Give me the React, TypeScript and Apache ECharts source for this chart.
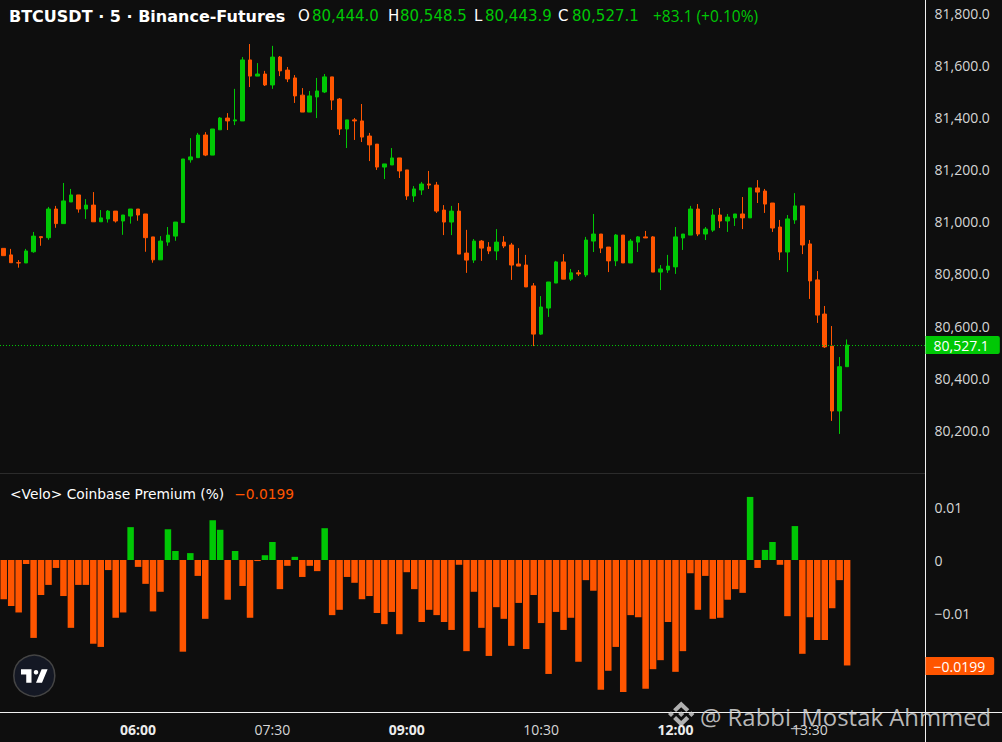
import React, { useEffect, useRef } from "react";
import * as echarts from "echarts";

// ---------- data ----------
const SYMBOL_TITLE = "BTCUSDT · 5 · Binance-Futures";
const PANE_TITLE = "<Velo> Coinbase Premium (%)";
const WATERMARK = "@ Rabbi_Mostak Ahmmed";

const START_HOUR = 4;
const START_MINUTE = 30;
const STEP_MINUTES = 5;
const SLOT_COUNT = 124; // visible 5-minute slots (incl. empty right margin)

const TIME_TICKS = ["06:00", "07:30", "09:00", "10:30", "12:00", "13:30"];

// open, high, low, close
const CANDLES: number[][] = [
  [80898, 80898, 80870, 80870],
  [80873, 80896, 80843, 80843],
  [80843, 80853, 80824, 80842],
  [80842, 80896, 80842, 80888],
  [80885, 80961, 80881, 80945],
  [80943, 80943, 80908, 80939],
  [80939, 81057, 80931, 81049],
  [81049, 81061, 80977, 80993],
  [80993, 81149, 80993, 81080],
  [81076, 81126, 81076, 81103],
  [81103, 81103, 81035, 81049],
  [81049, 81087, 81011, 81064],
  [81064, 81114, 81000, 81000],
  [81000, 81045, 81000, 81015],
  [81011, 81045, 80997, 81041],
  [81041, 81041, 80997, 81003],
  [81003, 81026, 80950, 81026],
  [81022, 81049, 80993, 81049],
  [81049, 81049, 81004, 81026],
  [81030, 81030, 80885, 80939],
  [80942, 80942, 80843, 80854],
  [80854, 80945, 80854, 80926],
  [80922, 80980, 80908, 80949],
  [80945, 80999, 80927, 80999],
  [80997, 81241, 80997, 81241],
  [81238, 81321, 81227, 81249],
  [81246, 81341, 81246, 81333],
  [81333, 81344, 81252, 81256],
  [81256, 81356, 81256, 81356],
  [81353, 81402, 81353, 81398],
  [81398, 81417, 81352, 81387],
  [81387, 81510, 81371, 81391],
  [81387, 81632, 81387, 81621],
  [81621, 81682, 81517, 81559],
  [81559, 81609, 81559, 81567],
  [81567, 81579, 81521, 81525],
  [81525, 81675, 81510, 81632],
  [81632, 81636, 81559, 81579],
  [81582, 81594, 81536, 81548],
  [81552, 81563, 81456, 81483],
  [81486, 81513, 81421, 81421],
  [81421, 81502, 81421, 81483],
  [81479, 81552, 81398, 81502],
  [81498, 81567, 81494, 81556],
  [81556, 81556, 81429, 81467],
  [81471, 81475, 81333, 81356],
  [81356, 81391, 81283, 81391],
  [81391, 81398, 81314, 81387],
  [81387, 81452, 81306, 81325],
  [81329, 81341, 81233, 81295],
  [81298, 81298, 81199, 81210],
  [81210, 81222, 81164, 81222],
  [81218, 81283, 81218, 81245],
  [81245, 81245, 81168, 81195],
  [81199, 81199, 81084, 81099],
  [81099, 81137, 81076, 81126],
  [81122, 81153, 81103, 81145],
  [81145, 81195, 81126, 81141],
  [81141, 81153, 81034, 81041],
  [81045, 81064, 80949, 80999],
  [80999, 81061, 80949, 81041],
  [81041, 81072, 80876, 80876],
  [80880, 80969, 80804, 80853],
  [80853, 80934, 80842, 80926],
  [80926, 80930, 80850, 80899],
  [80903, 80922, 80876, 80888],
  [80888, 80972, 80853, 80922],
  [80922, 80945, 80899, 80907],
  [80911, 80919, 80777, 80834],
  [80838, 80899, 80830, 80830],
  [80834, 80873, 80750, 80750],
  [80754, 80765, 80523, 80569],
  [80569, 80715, 80566, 80673],
  [80669, 80769, 80635, 80769],
  [80765, 80850, 80765, 80846],
  [80846, 80876, 80780, 80780],
  [80780, 80819, 80773, 80804],
  [80804, 80815, 80792, 80800],
  [80796, 80942, 80788, 80930],
  [80926, 81030, 80884, 80953],
  [80953, 80953, 80880, 80899],
  [80903, 80903, 80807, 80850],
  [80850, 80953, 80830, 80949],
  [80949, 80949, 80842, 80842],
  [80842, 80934, 80842, 80926],
  [80922, 80945, 80884, 80942],
  [80942, 80965, 80938, 80938],
  [80942, 80945, 80807, 80807],
  [80807, 80834, 80738, 80819],
  [80815, 80873, 80804, 80830],
  [80827, 80980, 80800, 80942],
  [80938, 80953, 80892, 80953],
  [80949, 81061, 80949, 81049],
  [81049, 81068, 80945, 80953],
  [80953, 80980, 80930, 80972],
  [80968, 81049, 80961, 81026],
  [81026, 81053, 80976, 81003],
  [81003, 81030, 80961, 81018],
  [81015, 81030, 80984, 81030],
  [81030, 81095, 80972, 81015],
  [81015, 81130, 81015, 81130],
  [81130, 81160, 81072, 81114],
  [81118, 81126, 81034, 81068],
  [81072, 81072, 80961, 80976],
  [80980, 81007, 80853, 80884],
  [80884, 81026, 80807, 81011],
  [81007, 81110, 80992, 81061],
  [81061, 81061, 80876, 80911],
  [80915, 80930, 80704, 80773],
  [80777, 80811, 80612, 80642],
  [80646, 80677, 80516, 80520],
  [80523, 80600, 80236, 80274],
  [80274, 80481, 80186, 80444.0],
  [80444.0, 80548.5, 80443.9, 80527.1],
];

const PREMIUM: number[] = [
  -0.0074, -0.0087, -0.0099, -0.00075, -0.0147, -0.0066, -0.0047, -0.0015, -0.0068, -0.0128,
  -0.0047, -0.0047, -0.0158, -0.0164, -0.0019, -0.0109, -0.0099, 0.0062, -0.0013, -0.0045,
  -0.0097, -0.006, 0.0058, 0.0017, -0.0173, 0.0013, -0.003, -0.0111, 0.0075, 0.0057,
  -0.0075, 0.0017, -0.0049, -0.0109, -0.0002, 0.0009, 0.0034, -0.0055, -0.0011, 0.0006,
  -0.0032, -0.0011, -0.0021, 0.006, -0.0104, -0.0094, -0.0032, -0.0043, -0.0074, -0.0068,
  -0.01, -0.0121, -0.0098, -0.014, -0.0023, -0.0055, -0.0117, -0.0094, -0.0104, -0.0117,
  -0.0132, -0.0009, -0.0172, -0.006, -0.0128, -0.0181, -0.0089, -0.0111, -0.0162, -0.0081,
  -0.0168, -0.0066, -0.0119, -0.0215, -0.0098, -0.0132, -0.0109, -0.0192, -0.0038, -0.0058,
  -0.0245, -0.0209, -0.0164, -0.0249, -0.0104, -0.0108, -0.0243, -0.0206, -0.0189, -0.0117,
  -0.0211, -0.0172, -0.0025, -0.0094, -0.003, -0.0111, -0.0109, -0.0075, -0.0055, -0.0062,
  0.0119, -0.0015, 0.0019, 0.0034, -0.0009, -0.0106, 0.0064, -0.0177, -0.0108, -0.0151,
  -0.0151, -0.0091, -0.0038, -0.0199,
];

const PRICE_MIN = 80000;
const PRICE_MAX = 81851;
const PRICE_STEP = 200;
const PREM_MIN = -0.03;
const PREM_MAX = 0.02;
const PREM_STEP = 0.01;
const PREM_LABELS = [0.01, 0, -0.01];

// ---------- styles ----------
const GREEN = "#00c805";
const ORANGE = "#ff5500";
const BG = "#0e0e0e";
const FONT = "'Open Sans', 'Noto Sans', sans-serif";
const HFONT = "'DejaVu Sans', sans-serif";

const pad2 = (n: number) => (n < 10 ? "0" + n : "" + n);
const CATEGORIES: string[] = [];
for (let i = 0; i < SLOT_COUNT; i++) {
  const m = START_HOUR * 60 + START_MINUTE + i * STEP_MINUTES;
  CATEGORIES.push(pad2(Math.floor(m / 60) % 24) + ":" + pad2(m % 60));
}

const fmtPrice = (v: number) =>
  v.toLocaleString("en-US", { minimumFractionDigits: 1, maximumFractionDigits: 1 });
const fmtSigned = (v: number, d: number) => (v < 0 ? "\u2212" : "") + Math.abs(v).toFixed(d);

const TV_LOGO = "M14 22H7V11H0V4h14v18zM28 22h-8l7.5-18h8L28 22z";
const BINANCE_LOGO =
  "M16.624 13.9202l2.7175 2.7154-7.353 7.353-7.353-7.352 2.7175-2.7164 4.6355 4.6595 4.6356-4.6595zm4.6366-4.6366L24 12l-2.7154 2.7164L18.5682 12l2.6924-2.7164zm-9.272.001l2.7163 2.6914-2.7164 2.7174v-.001L9.2721 12l2.7164-2.7154zm-9.2722-.001L5.4088 12l-2.6914 2.6924L0 12l2.7164-2.7164zM11.9885.0115l7.353 7.329-2.7174 2.7154-4.6356-4.6356-4.6355 4.6595-2.7174-2.7154 7.353-7.353z";

let shapesRegistered = false;
function registerShapes() {
  if (shapesRegistered) return;
  echarts.graphic.registerShape("tvlogo", echarts.graphic.extendPath(TV_LOGO, {}) as any);
  echarts.graphic.registerShape("binancelogo", echarts.graphic.extendPath(BINANCE_LOGO, {}) as any);
  shapesRegistered = true;
}

function headerText(x: number, text: string, fill: string, weight: any = "normal", size = 15, family = HFONT) {
  return {
    type: "text",
    x,
    y: 16,
    silent: true,
    style: { text, fill, fontSize: size, fontWeight: weight, fontFamily: family, verticalAlign: "middle" },
  };
}

export default function App() {
  const ref = useRef<HTMLDivElement>(null);

  useEffect(() => {
    if (!ref.current) return;
    registerShapes();
    const chart = echarts.init(ref.current, undefined, { renderer: "svg" });

    const last = CANDLES[CANDLES.length - 1];
    const prevClose = CANDLES[CANDLES.length - 2][3];
    const [o, h, l, c] = last;
    const chg = c - prevClose;
    const chgPct = (chg / prevClose) * 100;
    const sign = chg >= 0 ? "+" : "\u2212";
    const chgText = sign + Math.abs(chg).toFixed(1) + " (" + sign + Math.abs(chgPct).toFixed(2) + "%)";
    const lastPrem = PREMIUM[PREMIUM.length - 1];

    const candleData = CANDLES.map((d) => [d[0], d[3], d[2], d[1]]);

    const option: any = {
      animation: false,
      backgroundColor: BG,
      textStyle: { fontFamily: FONT },
      grid: [
        { left: -4.25, width: 929.75, top: 0, height: 482.41 },
        { left: -4.25, width: 929.75, top: 454, height: 265 },
      ],
      xAxis: [
        { type: "category", gridIndex: 0, data: CATEGORIES, boundaryGap: true, show: false },
        {
          type: "category",
          gridIndex: 1,
          data: CATEGORIES,
          boundaryGap: true,
          axisLine: { show: false },
          axisTick: { show: false },
          splitLine: { show: false },
          axisLabel: {
            interval: (_i: number, v: string) => TIME_TICKS.indexOf(v) >= 0,
            margin: 3,
            formatter: (v: string) => (v.endsWith(":00") ? "{b|" + v + "}" : "{r|" + v + "}"),
            rich: {
              b: { fontWeight: "bold", color: "#ececec", fontSize: 14, fontFamily: FONT },
              r: { color: "#d6d6d6", fontSize: 14, fontFamily: FONT },
            },
          },
        },
      ],
      yAxis: [
        {
          type: "value",
          gridIndex: 0,
          position: "right",
          min: PRICE_MIN,
          max: PRICE_MAX,
          interval: PRICE_STEP,
          splitLine: { show: false },
          axisLine: { show: false },
          axisTick: { show: false },
          axisLabel: {
            margin: 9,
            color: "#d6d6d6",
            fontSize: 14,
            fontFamily: FONT,
            showMinLabel: false,
            showMaxLabel: false,
            formatter: (v: number) => fmtPrice(v),
          },
        },
        {
          type: "value",
          gridIndex: 1,
          position: "right",
          min: PREM_MIN,
          max: PREM_MAX,
          interval: PREM_STEP,
          splitLine: { show: false },
          axisLine: { show: false },
          axisTick: { show: false },
          axisLabel: {
            margin: 9,
            color: "#d6d6d6",
            fontSize: 14,
            fontFamily: FONT,
            formatter: (v: number) => {
              const r = Math.round(v * 100) / 100;
              if (PREM_LABELS.indexOf(r) < 0) return "";
              return r === 0 ? "0" : fmtSigned(r, 2);
            },
          },
        },
      ],
      series: [
        {
          type: "candlestick",
          xAxisIndex: 0,
          yAxisIndex: 0,
          data: candleData,
          barWidth: 4,
          itemStyle: {
            color: GREEN,
            color0: ORANGE,
            borderColor: GREEN,
            borderColor0: ORANGE,
            borderWidth: 1,
          },
          markLine: {
            silent: true,
            symbol: "none",
            data: [{ yAxis: c }],
            lineStyle: { color: GREEN, type: [1, 2], width: 1 },
            label: {
              position: "end",
              distance: 0,
              formatter: fmtPrice(c),
              backgroundColor: GREEN,
              color: "#ffffff",
              fontSize: 14,
              fontFamily: FONT,
              padding: [2, 11, 2, 8],
              borderRadius: [0, 2, 2, 0],
            },
          },
        },
        {
          type: "bar",
          xAxisIndex: 1,
          yAxisIndex: 1,
          data: PREMIUM,
          barWidth: "87%",
          itemStyle: {
            color: (p: any) => (p.value >= 0 ? GREEN : ORANGE),
          },
          markLine: {
            silent: true,
            symbol: "none",
            data: [{ yAxis: lastPrem }],
            lineStyle: { color: "rgba(0,0,0,0)", width: 1, type: "solid" },
            label: {
              show: true,
              position: "end",
              distance: 0,
              formatter: fmtSigned(lastPrem, 4),
              backgroundColor: ORANGE,
              color: "#ffffff",
              fontSize: 14,
              fontFamily: FONT,
              padding: [2, 9, 2, 8],
              borderRadius: [0, 2, 2, 0],
            },
          },
        },
      ],
      graphic: [
        { type: "line", silent: true, shape: { x1: 0, y1: 473.5, x2: 925, y2: 473.5 }, style: { stroke: "#2b2b2b", lineWidth: 1 } },
        { type: "line", silent: true, shape: { x1: 0, y1: 712.5, x2: 1002, y2: 712.5 }, style: { stroke: "#f0f0f0", lineWidth: 1 } },
        { type: "line", silent: true, shape: { x1: 925.5, y1: 0, x2: 925.5, y2: 742 }, style: { stroke: "#f0f0f0", lineWidth: 1 } },
        headerText(9, SYMBOL_TITLE, "#ffffff", "bold", 16),
        headerText(298, "O", "#ffffff"),
        headerText(312, fmtPrice(o), GREEN),
        headerText(388, "H", "#ffffff"),
        headerText(400, fmtPrice(h), GREEN),
        headerText(474, "L", "#ffffff"),
        headerText(485, fmtPrice(l), GREEN),
        headerText(558, "C", "#ffffff"),
        headerText(572, fmtPrice(c), GREEN),
        headerText(653, chgText, GREEN, "normal", 15.5, FONT),
        {
          type: "text",
          x: 10,
          y: 494,
          silent: true,
          style: {
            text: "{t|" + PANE_TITLE + "}   {o|" + fmtSigned(lastPrem, 4) + "}",
            verticalAlign: "middle",
            rich: {
              t: { fontSize: 13.8, fontWeight: "normal", fill: "#ffffff", fontFamily: HFONT },
              o: { fontSize: 13.8, fill: ORANGE, fontFamily: HFONT },
            },
          },
        },
        {
          type: "circle",
          silent: true,
          shape: { cx: 34.3, cy: 675.7, r: 20.5 },
          style: { fill: "#141824", stroke: "#444444", lineWidth: 1.5 },
        },
        {
          type: "tvlogo",
          silent: true,
          x: 21,
          y: 666.3,
          scaleX: 0.75,
          scaleY: 0.75,
          style: { fill: "#ffffff" },
        },
        {
          type: "circle",
          silent: true,
          shape: { cx: 21 + 20 * 0.75, cy: 666.3 + 8 * 0.75, r: 3 * 0.75 },
          style: { fill: "#ffffff" },
        },
        {
          type: "binancelogo",
          silent: true,
          x: 668,
          y: 701.5,
          scaleX: 1.1,
          scaleY: 1.05,
          style: { fill: "rgba(205,205,205,0.85)" },
        },
        {
          type: "text",
          x: 700,
          y: 716,
          silent: true,
          style: {
            text: WATERMARK,
            verticalAlign: "middle",
            fontSize: 23.9,
            fontFamily: FONT,
            fill: "rgba(215,215,215,0.85)",
          },
        },
      ],
    };

    chart.setOption(option);
    return () => chart.dispose();
  }, []);

  return (
    <div
      ref={ref}
      style={{ position: "fixed", left: 0, top: 0, width: 1002, height: 742, background: BG }}
    />
  );
}
